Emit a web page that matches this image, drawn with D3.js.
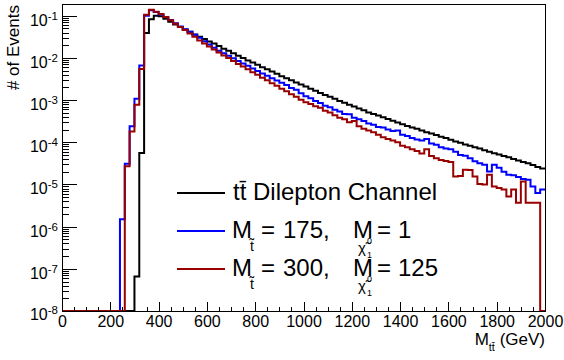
<!DOCTYPE html>
<html>
<head>
<meta charset="utf-8">
<script src="https://cdn.jsdelivr.net/npm/d3@7"></script>
<style>
    body { margin: 0; background: #fff; }
    text { font-family: "Liberation Sans", Arial, sans-serif; fill: #000; }
</style>
</head>
<body>
<script>
// binning: 100 bins of 20 GeV from 0 to 2000
const binWidth = 20;
const xMax = 2000;
const xTicks = [0, 200, 400, 600, 800, 1000, 1200, 1400, 1600, 1800, 2000];
const yDecades = [-8, -7, -6, -5, -4, -3, -2, -1];

// normalised M_tt distributions, one value per bin
const ttbarDilepton = [
    0, 0, 0, 0, 0, 0, 0, 0, 0, 0, 0, 0, 0, 0, 0, 6.6e-8, 5.6e-5, 3.9e-2, 8.3e-2, 1.0e-1,
    9.8e-2, 8.5e-2, 7.2e-2, 6.2e-2, 5.4e-2, 4.7e-2, 4.2e-2, 3.6e-2, 3.2e-2, 2.8e-2,
    2.45e-2, 2.19e-2, 1.91e-2, 1.66e-2, 1.48e-2, 1.29e-2, 1.12e-2, 1.0e-2, 8.7e-3, 7.8e-3,
    6.9e-3, 6.0e-3, 5.4e-3, 4.8e-3, 4.2e-3, 3.7e-3, 3.3e-3, 2.95e-3, 2.63e-3, 2.34e-3,
    2.09e-3, 1.86e-3, 1.66e-3, 1.48e-3, 1.32e-3, 1.2e-3, 1.07e-3, 9.5e-4, 8.7e-4, 7.8e-4,
    7.1e-4, 6.3e-4, 5.75e-4, 5.1e-4, 4.7e-4, 4.3e-4, 3.9e-4, 3.55e-4, 3.24e-4, 2.95e-4,
    2.69e-4, 2.45e-4, 2.24e-4, 2.09e-4, 1.91e-4, 1.74e-4, 1.62e-4, 1.48e-4, 1.35e-4, 1.26e-4,
    1.15e-4, 1.05e-4, 9.8e-5, 8.9e-5, 8.3e-5, 7.6e-5, 7.1e-5, 6.5e-5, 6.0e-5, 5.5e-5,
    5.1e-5, 4.7e-5, 4.4e-5, 4.0e-5, 3.7e-5, 3.4e-5, 3.2e-5, 2.9e-5, 2.6e-5, 2.4e-5
];
const stop175 = [
    0, 0, 0, 0, 0, 0, 0, 0, 0, 0, 0, 0, 1.5e-6, 3.1e-5, 2.4e-4, 1.07e-3, 6.6e-3, 1.0e-1, 1.35e-1, 1.22e-1,
    1.07e-1, 9.3e-2, 7.9e-2, 6.6e-2, 5.6e-2, 4.8e-2, 4.2e-2, 3.55e-2, 3.0e-2, 2.5e-2,
    2.09e-2, 1.74e-2, 1.48e-2, 1.29e-2, 1.12e-2, 9.8e-3, 8.5e-3, 7.4e-3, 6.5e-3, 5.6e-3,
    4.9e-3, 4.3e-3, 3.8e-3, 3.3e-3, 2.9e-3, 2.57e-3, 2.29e-3, 1.95e-3, 1.75e-3, 1.45e-3,
    1.23e-3, 1.1e-3, 9.5e-4, 8.5e-4, 7.4e-4, 6.8e-4, 5.9e-4, 5.4e-4, 4.7e-4, 4.6e-4,
    3.8e-4, 3.5e-4, 3.2e-4, 2.8e-4, 2.6e-4, 2.3e-4, 2.25e-4, 2.0e-4, 1.86e-4, 1.91e-4,
    1.51e-4, 1.41e-4, 1.26e-4, 1.17e-4, 1.1e-4, 1.2e-4, 9.3e-5, 8.7e-5, 7.6e-5, 7.1e-5,
    6.8e-5, 6.0e-5, 5.0e-5, 4.8e-5, 4.2e-5, 3.55e-5, 3.2e-5, 2.95e-5, 2.04e-5, 2.95e-5,
    2.5e-5, 2.0e-5, 1.7e-5, 1.66e-5, 1.51e-5, 1.35e-5, 1.29e-5, 8.9e-6, 6.3e-6, 7.6e-6
];
const stop300 = [
    0, 0, 0, 0, 0, 0, 0, 0, 0, 0, 0, 0, 0, 2.7e-5, 1.8e-4, 7.8e-4, 5.5e-3, 1.06e-1, 1.39e-1, 1.25e-1,
    1.1e-1, 9.3e-2, 7.8e-2, 6.5e-2, 5.4e-2, 4.6e-2, 3.8e-2, 3.2e-2, 2.6e-2, 2.19e-2,
    1.86e-2, 1.58e-2, 1.35e-2, 1.15e-2, 1.0e-2, 8.5e-3, 7.2e-3, 6.3e-3, 5.4e-3, 4.6e-3,
    4.0e-3, 3.4e-3, 2.95e-3, 2.5e-3, 2.19e-3, 1.86e-3, 1.62e-3, 1.38e-3, 1.2e-3, 1.02e-3,
    8.9e-4, 8.1e-4, 7.2e-4, 6.6e-4, 5.6e-4, 5.1e-4, 4.4e-4, 3.8e-4, 3.5e-4, 3.0e-4,
    3.2e-4, 2.4e-4, 2.09e-4, 1.91e-4, 1.74e-4, 1.51e-4, 1.32e-4, 1.2e-4, 1.1e-4, 1.0e-4,
    8.3e-5, 7.6e-5, 6.8e-5, 6.2e-5, 5.4e-5, 6.8e-5, 4.7e-5, 4.2e-5, 3.8e-5, 3.6e-5,
    3.4e-5, 1.55e-5, 1.58e-5, 2.24e-5, 2.19e-5, 1.55e-5, 1.02e-5, 1.0e-5, 1.7e-5, 8.9e-6,
    8.3e-6, 7.6e-6, 5.2e-6, 7.6e-6, 3.7e-6, 1.17e-5, 3.7e-6, 3.7e-6, 3.7e-6, 0
];

let width = 564,
    height = 360;
let padLeft = 62, padRight = 545, padTop = 4, padBottom = 311;

let svg = d3.select("body")
    .append("svg")
    .attr("width", width)
    .attr("height", height);

let x = d3.scaleLinear().domain([0, xMax]).range([padLeft, padRight]);
let y = d3.scaleLog().domain([1e-8, 0.19]).range([padBottom, padTop]).clamp(true);

svg.append("clipPath").attr("id", "plotArea")
    .append("rect")
    .attr("x", padLeft).attr("y", padTop - 1)
    .attr("width", padRight - padLeft).attr("height", padBottom - padTop + 2);

// histograms as step outlines, empty bins sit on the frame bottom
function stepPoints(values) {
    let pts = [];
    values.forEach((v, i) => {
        pts.push([i * binWidth, v]);
        pts.push([(i + 1) * binWidth, v]);
    });
    return pts;
}
let line = d3.line()
    .x(d => x(d[0]))
    .y(d => d[1] > 0 ? y(d[1]) : padBottom);

const series = [
    { values: ttbarDilepton, color: "#000000" },
    { values: stop175, color: "#0000ff" },
    { values: stop300, color: "#990000" }
];
let plot = svg.append("g").attr("clip-path", "url(#plotArea)");
series.forEach(s => {
    plot.append("path")
        .attr("d", line(stepPoints(s.values)))
        .attr("fill", "none")
        .attr("stroke", s.color)
        .attr("stroke-width", 2);
});

// frame
svg.append("rect")
    .attr("x", padLeft).attr("y", padTop)
    .attr("width", padRight - padLeft).attr("height", padBottom - padTop)
    .attr("fill", "none").attr("stroke", "#000").attr("stroke-width", 1)
    .attr("shape-rendering", "crispEdges");

// x axis
let xMinor = d3.range(0, xMax + 1, 50).filter(v => v % 200 !== 0);
let xAxis = svg.append("g")
    .attr("transform", `translate(0,${padBottom})`)
    .call(d3.axisBottom(x).tickValues(xTicks).tickFormat(d3.format("d"))
        .tickSize(-9).tickSizeOuter(0).tickPadding(5));
xAxis.attr("font-family", null).attr("font-size", null);
xAxis.selectAll("text").attr("font-size", 16);
svg.append("g")
    .attr("transform", `translate(0,${padBottom})`)
    .call(d3.axisBottom(x).tickValues(xMinor).tickSize(-4.5).tickFormat(""))
    .call(g => g.select(".domain").remove());

// y axis
let yMajor = yDecades.map(e => Math.pow(10, e));
let yMinor = [];
yDecades.forEach(e => {
    for (let k = 2; k <= 9; k++) {
        if (k * Math.pow(10, e) < y.domain()[1]) yMinor.push(k * Math.pow(10, e));
    }
});
svg.append("g")
    .attr("transform", `translate(${padLeft},0)`)
    .call(d3.axisLeft(y).tickValues(yMajor).tickSize(-15).tickSizeOuter(0).tickFormat(""));
svg.append("g")
    .attr("transform", `translate(${padLeft},0)`)
    .call(d3.axisLeft(y).tickValues(yMinor).tickSize(-7).tickFormat(""))
    .call(g => g.select(".domain").remove());
svg.selectAll(".tick line").attr("shape-rendering", "crispEdges");

yDecades.forEach(e => {
    let t = svg.append("text")
        .attr("x", 58)
        .attr("y", y(Math.pow(10, e)) + (e === -8 ? 8.5 : 10))
        .attr("text-anchor", "end")
        .attr("font-size", 16);
    t.append("tspan").text("10");
    t.append("tspan").attr("dy", -6).attr("font-size", 11.5).text(e);
});

// axis titles
svg.append("text")
    .attr("transform", "translate(19,5) rotate(-90)")
    .attr("text-anchor", "end")
    .attr("font-size", 17)
    .text("# of Events");

let xt = svg.append("text")
    .attr("x", padRight).attr("y", 345)
    .attr("text-anchor", "end")
    .attr("font-size", 17);
xt.append("tspan").text("M");
xt.append("tspan").attr("font-size", 11).attr("dy", 6).text("tt\u0304");
xt.append("tspan").attr("dy", -6).text(" (GeV)");

// legend
const legendBaselines = [200, 238, 276];
series.forEach((s, i) => {
    svg.append("line")
        .attr("x1", 177).attr("x2", 225)
        .attr("y1", legendBaselines[i] - 7).attr("y2", legendBaselines[i] - 7)
        .attr("stroke", s.color).attr("stroke-width", 2);
});
function piece(txt, px, py, size) {
    return svg.append("text").attr("x", px).attr("y", py).attr("font-size", size).text(txt);
}
piece("tt\u0304 Dilepton Channel", 233, legendBaselines[0], 24);
[["175,", "1"], ["300,", "125"]].forEach((p, i) => {
    let b = legendBaselines[i + 1];
    piece("M", 232, b, 24);
    piece("t\u0303", 250, b + 13, 14);
    piece("=", 261, b, 24);
    piece(p[0], 283, b, 24);
    piece("M", 353, b, 24);
    // neutralino subscript: chi-tilde with ^0 and _1
    let chi = svg.append("text").attr("x", 358).attr("y", b + 15).attr("font-size", 15);
    chi.append("tspan").text("\u03c7\u0303");
    chi.append("tspan").attr("x", 367).attr("dy", -9).attr("font-size", 9).text("0");
    chi.append("tspan").attr("x", 367).attr("dy", 14).attr("font-size", 9).text("1");
    piece("=", 377, b, 24);
    piece(p[1], 398, b, 24);
});
</script>
</body>
</html>
